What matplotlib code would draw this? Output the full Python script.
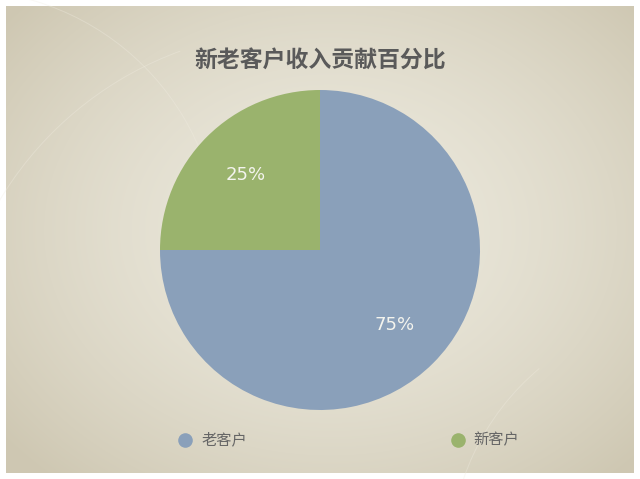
import numpy as np
import matplotlib
matplotlib.use("Agg")
import matplotlib.pyplot as plt
from matplotlib.patches import Rectangle, Arc

plt.rcParams['font.family'] = ['Noto Sans CJK SC', 'DejaVu Sans']

title = "新老客户收入贡献百分比"
categories = ["老客户", "新客户"]
values = [75, 25]
colors = ["#8aa0ba", "#9ab36d"]

fig = plt.figure(figsize=(6.4, 4.79), dpi=100)
fig.patch.set_facecolor("white")

# background parchment
bg = fig.add_axes([0, 0, 1, 1])
bg.set_xlim(0, 640)
bg.set_ylim(479, 0)
bg.axis("off")
yy, xx = np.mgrid[0:479, 0:640]
d = np.sqrt(((xx - 330) / 420.0) ** 2 + ((yy - 230) / 330.0) ** 2)
d = np.clip(d, 0, 1)
c_in = np.array([0.925, 0.914, 0.867])
c_out = np.array([0.81, 0.783, 0.70])
img = c_in[None, None, :] * (1 - d[..., None] ** 1.6) + c_out[None, None, :] * (d[..., None] ** 1.6)
im = bg.imshow(img, extent=(0, 640, 479, 0), aspect="auto", zorder=0)
clip = Rectangle((6, 6), 628, 467, transform=bg.transData)
im.set_clip_path(clip)
# faint decorative arcs
for (cx, cy, w, h, t1, t2) in [(-40, 250, 520, 520, 270, 360), (300, 380, 700, 700, 180, 250),
                               (620, -60, 420, 420, 180, 270), (700, 560, 500, 500, 180, 230)]:
    a = Arc((cx, cy), w, h, theta1=t1, theta2=t2, color="#f1ede2", lw=0.7, alpha=0.35, zorder=1)
    bg.add_patch(a)

fig.text(0.5, 1 - 60 / 479, title, ha="center", va="center", fontsize=16.5,
         color="#5a5a5a", fontweight="bold")

ax = fig.add_axes([160 / 640, (479 - 410) / 479, 320 / 640, 320 / 479])
ax.set_facecolor("none")
wedges, texts, autotexts = ax.pie(values, colors=colors, startangle=90, counterclock=False,
                                  autopct="%d%%", pctdistance=0.66, radius=1,
                                  textprops=dict(color="#f4f4ee", fontsize=13, family="DejaVu Sans"))
ax.set_xlim(-1, 1)
ax.set_ylim(-1, 1)
ax.set_aspect("equal")

leg_y = 1 - 440 / 479
pos = [(185, 202), (458, 473)]
for (mx, tx), cat, col in zip(pos, categories, colors):
    bg.scatter([mx], [440], s=90, color=col, zorder=3)
    fig.text(tx / 640, leg_y, cat, ha="left", va="center", fontsize=11, color="#666666")

fig.savefig("out.png", dpi=100)
